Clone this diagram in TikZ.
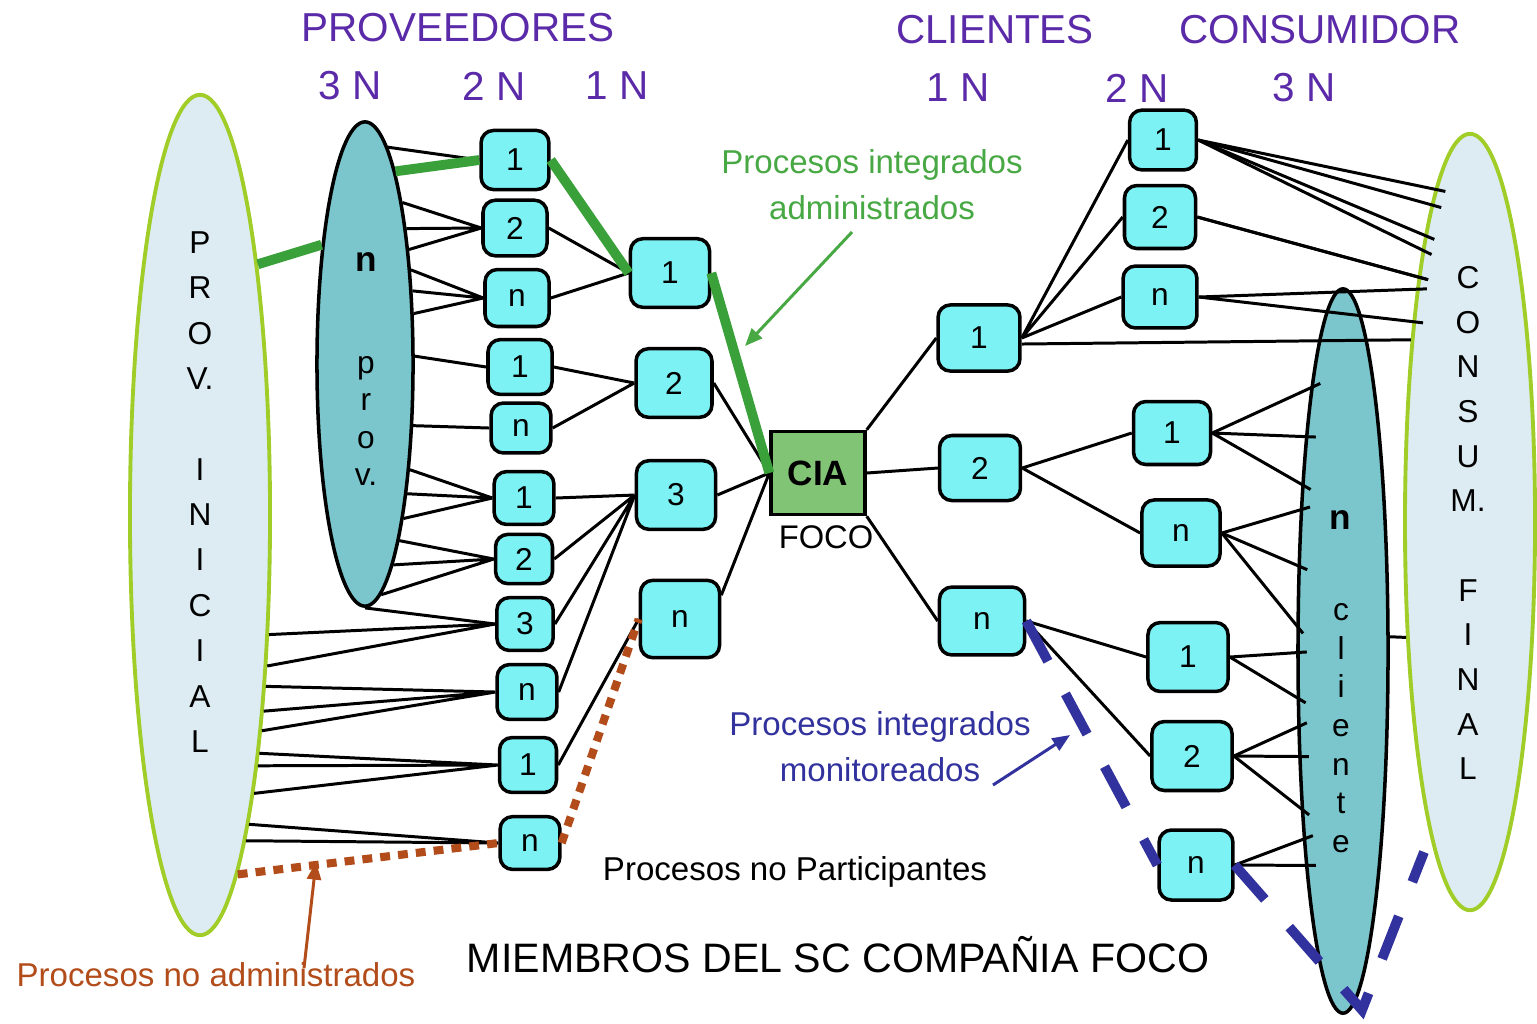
\documentclass[tikz,border=0pt]{standalone}
\usepackage{fontspec}
\setmainfont{Liberation Sans}
\usetikzlibrary{shapes.geometric,arrows.meta}

\definecolor{morado}{RGB}{90,42,168}
\definecolor{cian}{RGB}{125,242,245}
\definecolor{azulverde}{RGB}{122,198,204}
\definecolor{celeste}{RGB}{220,236,242}
\definecolor{lima}{RGB}{160,205,40}
\definecolor{verdecia}{RGB}{130,196,118}
\definecolor{verdelinea}{RGB}{58,160,58}
\definecolor{verdetexto}{RGB}{72,168,68}
\definecolor{azulmon}{RGB}{50,50,158}
\definecolor{cafe}{RGB}{178,76,26}

\begin{document}
\begin{tikzpicture}[x=0.01cm,y=-0.01cm,
	every node/.style={inner sep=0pt},
	clara/.style={ellipse,draw=lima,line width=1.1pt,fill=celeste},
	oscura/.style={ellipse,draw=black,line width=1pt,fill=azulverde},
	caja/.style={draw=black,line width=1pt,rounded corners=3.5pt,fill=cian,font=\fontsize{9}{9}\selectfont},
	box2/.style={caja,minimum width=17pt,minimum height=15pt},
	box1/.style={caja,minimum width=22.5pt,minimum height=19.5pt},
	boxr/.style={caja,minimum width=21.5pt,minimum height=18.5pt},
	titulo/.style={text=morado,font=\fontsize{11.5}{11.5}\selectfont},
	etiqueta/.style={align=center,font=\fontsize{9.4}{13.1}\selectfont},
	linea/.style={black,line width=0.85pt},
	dentro/.style={linea,shorten >=-3pt},
	gruesa/.style={verdelinea,line width=2.8pt},
	punteada/.style={cafe,line width=2.3pt,dash pattern=on 2.8pt off 2.3pt},
	rayada/.style={azulmon,line width=2.8pt,dash pattern=on 13pt off 10.5pt},
	flecha/.style={line width=0.85pt,-{Triangle[length=5pt,width=4pt]}}]
\useasboundingbox (0,0) rectangle (1537,1023);

% titulos
\node[titulo] (tprov) at (458,28) {PROVEEDORES};
\node[titulo] (tcli) at (995,30) {CLIENTES};
\node[titulo] (tcons) at (1320,30) {CONSUMIDOR};
\node[titulo] (p3n) at (350,86) {3 N};
\node[titulo] (p2n) at (494,86) {2 N};
\node[titulo] (p1n) at (617,86) {1 N};
\node[titulo] (c1n) at (958,88) {1 N};
\node[titulo] (c2n) at (1137,88) {2 N};
\node[titulo] (c3n) at (1304,88) {3 N};

% elipses
\node[clara,minimum width=1.4cm,minimum height=8.4cm] (provini) at (200,515) {};
\node[clara,minimum width=1.3cm,minimum height=7.76cm] (consum) at (1470,522) {};
\node[oscura,minimum width=0.96cm,minimum height=4.84cm] (nprov) at (365,364) {};
\node[oscura,minimum width=0.9cm,minimum height=7.24cm] (cliente) at (1343,651) {};

\node[align=center,font=\fontsize{9}{12.9}\selectfont] (provtxt) at (200,492) {P\\R\\O\\V.\\[12.9pt]I\\N\\I\\C\\I\\A\\L};
\node[align=center,font=\fontsize{9}{12.7}\selectfont] (constxt) at (1468,523) {C\\O\\N\\S\\U\\M.\\[12.7pt]F\\I\\N\\A\\L};
\node[font=\bfseries\fontsize{10}{10}\selectfont] (nprovn) at (366,262) {n};
\node[align=center,font=\fontsize{9}{10.7}\selectfont] (nprovtxt) at (366,421) {p\\r\\o\\v.};
\node[font=\bfseries\fontsize{10}{10}\selectfont] (clin) at (1340,520) {n};
\node[align=center,font=\fontsize{9}{11}\selectfont] (clitxt) at (1341,728) {c\\l\\i\\e\\n\\t\\e};

% proveedores 2N
\node[box2,minimum width=19.3pt,minimum height=16.8pt] (a1) at (515,160) {1};
\node[box2,minimum width=18.2pt,minimum height=15.8pt] (a2) at (515,228) {2};
\node[box2,minimum width=18.2pt,minimum height=16.2pt] (a3) at (517,298) {n};
\node[box2,minimum width=18.2pt,minimum height=15.6pt] (a4) at (520,367) {1};
\node[box2,minimum height=14.2pt] (a5) at (521,428) {n};
\node[box2] (a6) at (524,498) {1};
\node[box2,minimum width=16.2pt,minimum height=14pt] (a7) at (524,559) {2};
\node[box2,minimum width=16pt] (a8) at (525,624) {3};
\node[box2,minimum height=15.6pt] (a9) at (527,692) {n};
\node[box2,minimum width=16.2pt,minimum height=15.6pt] (a10) at (528,765) {1};
\node[box2] (a11) at (530,843) {n};

% proveedores 1N
\node[box1] (b1) at (670,273) {1};
\node[box1,minimum width=21.6pt] (b2) at (674,383) {2};
\node[box1] (b3) at (676,495) {3};
\node[box1,minimum height=22pt] (b4) at (680,619) {n};

% compania foco
\node[draw=black,line width=1pt,fill=verdecia,minimum width=26.7pt,minimum height=23.6pt,font=\bfseries\fontsize{10}{10}\selectfont] (cia) at (818,473) {CIA};
\node[font=\fontsize{9.3}{9.3}\selectfont] (foco) at (826,537) {FOCO};

% clientes 1N
\node[box1,minimum width=23.3pt,minimum height=18.8pt] (c1) at (979,338) {1};
\node[box1,minimum width=23pt,minimum height=18.5pt] (c2) at (980,468) {2};
\node[box1,minimum width=24.2pt,minimum height=19.3pt] (c3) at (982,621) {n};

% clientes 2N
\node[boxr,minimum width=19pt,minimum height=17pt] (d1) at (1163,140) {1};
\node[boxr,minimum width=20.2pt,minimum height=17.9pt] (d2) at (1160,217) {2};
\node[boxr,minimum width=21pt,minimum height=17.6pt] (d3) at (1160,297) {n};
\node[boxr,minimum width=21.9pt,minimum height=17.9pt] (d4) at (1172,433) {1};
\node[boxr,minimum width=22.2pt,minimum height=18.8pt] (d5) at (1181,533) {n};
\node[boxr,minimum width=22.8pt,minimum height=19.6pt] (d6) at (1188,657) {1};
\node[boxr,minimum width=22.8pt,minimum height=19.6pt] (d7) at (1192,756) {2};
\node[boxr,minimum width=21pt,minimum height=19.9pt] (d8) at (1196,865) {n};

% 3N -> 2N proveedores
\draw[linea] (nprov.84.4) -- (a1.west);
\draw[linea] (nprov.77) -- (a2.west) (nprov.73.9) -- (a2.west) (nprov.69.4) -- (a2.west);
\draw[linea] (nprov.64.2) -- (a3.west) (nprov.57.5) -- (a3.west) (nprov.46.2) -- (a3.west);
\draw[linea] (nprov.9.5) -- (a4.west);
\draw[linea] (nprov.-52.2) -- (a5.west);
\draw[linea] (nprov.-67.4) -- (a6.west) (nprov.-72.5) -- (a6.west) (nprov.-76.3) -- (a6.west);
\draw[linea] (nprov.-79) -- (a7.west) (nprov.-82.2) -- (a7.west) (nprov.-86.1) -- (a7.west);
\draw[linea] (nprov.south) -- (a8.west);
\draw[linea] (provini.-60.1) -- (a8.west) (provini.-66.3) -- (a8.west);
\draw[linea] (provini.-69) -- (a9.west) (provini.-72.1) -- (a9.west) (provini.-74.7) -- (a9.west);
\draw[linea] (provini.-76.2) -- (a10.west) (provini.-77.6) -- (a10.west) (provini.-79.5) -- (a10.west);
\draw[linea] (provini.-81.2) -- (a11.west) (provini.-82.6) -- (a11.west);

% 2N -> 1N proveedores
\draw[linea] (a2.east) -- (b1.west) (a3.east) -- (b1.west);
\draw[linea] (a4.east) -- (b2.west) (a5.east) -- (b2.west);
\draw[linea] (a6.east) -- (b3.west) (a7.east) -- (b3.west) (a8.east) -- (b3.west) (a9.east) -- (b3.west);
\draw[linea] (a10.east) -- (b4.west);

% 1N -> CIA
\draw[linea] (b2.east) -- (cia.west) (b3.east) -- (cia.west) (b4.30) -- (cia.west);

% CIA -> clientes
\draw[linea] (cia.north east) -- (c1.west) (cia.east) -- (c2.west) (cia.south east) -- (c3.west);
\draw[linea] (c1.east) -- (d1.west) (c1.east) -- (d2.west) (c1.east) -- (d3.west);
\draw[linea] (c1.-8) -- (consum.108);
\draw[linea] (c2.east) -- (d4.west) (c2.east) -- (d5.west);
\draw[linea] (c3.east) -- (d6.west) (c3.east) -- (d7.west);

% 2N -> consumidor final y n cliente
\draw[dentro] (d1.east) -- (consum.96.1);
\draw[dentro] (d1.east) -- (consum.97.8);
\draw[dentro] (d1.east) -- (consum.99.5);
\draw[dentro] (d1.east) -- (consum.100.9);
\draw[dentro] (d2.east) -- (consum.102.1);
\draw[dentro] (d2.east) -- (consum.102.8);
\draw[dentro] (d3.east) -- (consum.103.8);
\draw[dentro] (d3.east) -- (consum.106.3);
\draw[dentro] (d4.east) -- (cliente.97.4);
\draw[dentro] (d4.east) -- (cliente.100.3);
\draw[dentro] (d4.east) -- (cliente.104.6);
\draw[dentro] (d5.east) -- (cliente.107.2);
\draw[dentro] (d5.east) -- (cliente.118.8);
\draw[dentro] (d5.east) -- (cliente.151.9);
\draw[dentro] (d6.east) -- (cliente.182);
\draw[dentro] (d6.east) -- (cliente.225.9);
\draw[dentro] (d7.east) -- (cliente.239.9);
\draw[dentro] (d7.east) -- (cliente.247.7);
\draw[dentro] (d7.east) -- (cliente.255);
\draw[dentro] (d8.east) -- (cliente.258.1);
\draw[dentro] (d8.east) -- (cliente.260.4);
\draw[linea] (cliente.17) -- (consum.241.6);

% procesos integrados administrados
\draw[gruesa] (provini.77.1) -- (nprov.110.8);
\draw[gruesa] (nprov.81.4) -- (a1.west);
\draw[gruesa] (a1.east) -- (b1.west);
\draw[gruesa] (b1.east) -- (cia.west);

% procesos no administrados
\draw[punteada] (provini.-84) -- (a11.west);
\draw[punteada] (a11.east) -- (b4.west);

% procesos integrados monitoreados
\coordinate (vtx) at (1362,1010);
\coordinate (mend) at (1424,852);
\draw[rayada] (c3.east) -- (d8.west);
\draw[rayada] (d8.east) -- (vtx) -- (mend);

% textos
\node[etiqueta,text=verdetexto] (adm) at (872,185) {Procesos integrados\\administrados};
\coordinate (admtail) at (852,232);
\coordinate (admtip) at (745,346);
\draw[flecha,verdetexto] (admtail) -- (admtip);

\node[etiqueta,text=azulmon] (mon) at (880,747) {Procesos integrados\\monitoreados};
\coordinate (montail) at (993,785);
\coordinate (montip) at (1070,735);
\draw[flecha,azulmon] (montail) -- (montip);

\node[etiqueta] (nopart) at (795,872) {Procesos no Participantes};
\node[etiqueta,text=cafe] (noadm) at (216,975) {Procesos no administrados};
\coordinate (noadmtail) at (304,968);
\coordinate (noadmtip) at (316,862);
\draw[flecha,cafe] (noadmtail) -- (noadmtip);

\node[font=\fontsize{11.7}{11.7}\selectfont] (miembros) at (838,955) {MIEMBROS DEL SC COMPAÑIA FOCO};
\end{tikzpicture}
\end{document}
